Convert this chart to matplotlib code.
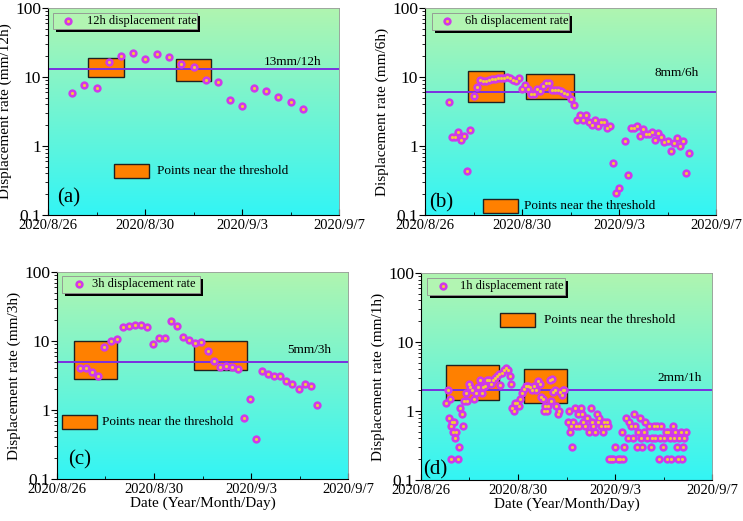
import numpy as np
import pandas as pd
import matplotlib
matplotlib.use('Agg')
from matplotlib import pyplot as plt
from matplotlib.patches import Rectangle
from matplotlib.ticker import FuncFormatter, LogLocator, NullFormatter
import matplotlib.dates as mdates

plt.rcParams['font.family'] = ['Liberation Serif', 'DejaVu Serif']
plt.rcParams['mathtext.fontset'] = 'stix'

# hours counted from 2020/8/26 00:00
a_hours = [24, 36, 48, 60, 72, 84, 96, 108, 120, 132, 144, 156, 168, 180, 192, 204, 216, 228, 240, 252]
a_rate = [5.9, 7.7, 6.9, 16.3, 20.4, 22.5, 18.0, 21.8, 19.7, 15.6, 13.8, 9.1, 8.6, 4.6, 3.8, 6.9, 6.2, 5.1, 4.4, 3.4]

b_hours = [24, 27, 30, 33, 36, 39, 42, 45, 48, 51, 54, 57, 60, 63, 66, 69, 72, 75, 78, 81,
           84, 87, 90, 93, 96, 99, 102, 105, 108, 111, 114, 117, 120, 123, 126, 129, 132, 135, 138, 141,
           144, 147, 150, 153, 156, 159, 162, 165, 168, 171, 174, 177, 180, 183, 186, 189, 192,
           198, 201, 204, 207, 210, 213, 216, 219, 222, 225, 228, 231, 234, 237, 240, 243, 246, 249,
           252, 255, 258, 261]
b_rate = [4.3, 1.34, 1.34, 1.6, 1.22, 1.39, 0.44, 1.68, 5.3, 7.1, 9.2, 8.9, 8.8, 9.2, 9.4, 9.4, 9.6, 9.7, 9.7, 10.0,
          9.6, 9.1, 8.7, 9.7, 6.7, 7.6, 6.6, 5.6, 5.6, 6.6, 6.2, 7.3, 8.2, 8.2, 6.4, 6.4, 6.4, 6.3, 5.9, 5.7,
          4.8, 3.9, 2.4, 2.8, 2.4, 2.8, 2.2, 2.05, 2.4, 1.94, 2.2, 2.2, 1.8, 1.94, 0.56, 0.21, 0.245,
          1.2, 0.38, 1.85, 1.83, 1.94, 1.42, 1.78, 1.5, 1.48, 1.6, 1.24, 1.52, 1.34, 1.14, 1.17, 0.84, 1.11, 1.31,
          1.0, 1.18, 0.41, 0.8]

c_hours = [23, 29, 35, 41, 47, 53, 59, 65, 71, 77, 83, 89, 95, 101, 107, 113, 119, 125, 131, 137,
           143, 149, 155, 161, 167, 173, 179, 185, 191, 197, 203, 209, 215, 221, 227, 233, 239, 245, 251, 257]
c_rate = [4.0, 4.0, 3.6, 3.1, 8.3, 9.9, 10.8, 15.8, 16.7, 17.3, 17.1, 16.0, 9.0, 11.1, 11.1, 19.8, 16.4, 11.4, 10.2, 9.3,
          9.8, 7.1, 5.1, 4.2, 4.4, 4.2, 3.9, 0.77, 1.46, 0.38, 3.7, 3.3, 3.1, 3.1, 2.6, 2.4, 2.0, 2.4, 2.2, 1.2]

d_hours = [25, 27, 27.5, 29, 29.5, 31, 30, 32, 33, 34, 35, 36.5, 38, 39, 40.5, 41.5, 42.5, 44.5, 46, 48,
           48.5, 50.5, 52.5, 54, 56, 58, 60, 61.5, 63, 65, 67, 69, 71, 73, 75, 77, 78.5, 80, 82, 84,
           86, 88, 89.5, 90.5, 92, 93.5, 95, 96.5, 98, 100, 101.5, 104, 106, 108, 110, 112, 114, 116, 118, 119,
           120.5, 122, 123, 124.5, 125.5, 127.5, 129.5, 128.5, 131, 132.5, 133.5, 135.5, 137, 138, 139.5, 140.5, 142,
           145, 146, 147, 148, 149.5, 150.5, 152, 153.5, 155.5, 156.5, 158, 159.5, 160.5, 162, 164, 166, 168,
           169.5, 170.5, 172.5, 174, 175.5, 176.5, 178.5, 180, 181, 182.5, 184.5, 185.5,
           186.5, 188.5, 190.5, 192, 194.5, 196.5, 198.5, 199.5, 201, 203, 204.5, 206, 207.5, 209.5, 210.5, 212,
           213.5, 214.5, 216.5, 218, 219, 220.5, 222, 224, 225.5, 227.5, 228.5, 230.5, 232, 234, 235.5, 236.5,
           238, 239.5, 240.5, 242, 243.5, 244.5, 246, 247.5, 249, 250.5, 251.5, 253, 254.5, 255.5, 257, 258.5,
           259.5, 260.5, 262]
d_rate = [1.3, 2.0, 0.8, 1.5, 0.6, 0.7, 0.2, 0.5, 0.7, 0.4, 0.5, 0.2, 0.3, 1.1, 0.9, 0.6, 1.4, 1.8, 1.4, 2.5,
          2.2, 2.0, 1.5, 1.8, 2.2, 2.8, 1.8, 2.2, 2.3, 2.8, 2.8, 2.5, 2.8, 3.0, 3.2, 3.4, 2.4, 3.5, 3.9, 4.2,
          3.9, 3.2, 2.5, 1.1, 1.0, 1.3, 1.3, 1.2, 1.5, 1.8, 2.1, 2.3, 2.3, 2.2, 2.0, 2.3, 2.0, 2.7, 2.5, 1.6,
          1.5, 1.0, 1.2, 1.0, 1.2, 2.8, 2.9, 1.4, 1.9, 2.0, 1.2, 0.9, 1.0, 1.9, 1.7, 2.0, 2.0,
          0.7, 1.0, 0.5, 0.6, 0.3, 0.7, 1.1, 0.6, 0.9, 0.6, 1.1, 0.9, 0.7, 0.6, 0.8, 0.5, 1.1,
          0.7, 0.6, 0.5, 0.9, 0.7, 0.8, 0.6, 0.5, 0.7, 0.6, 0.7, 0.6,
          0.2, 0.2, 0.2, 0.3, 0.2, 0.2, 0.5, 0.2, 0.3, 0.8, 0.4, 0.7, 0.6, 0.4, 0.9, 0.6,
          0.3, 0.5, 0.8, 0.4, 0.3, 0.5, 0.7, 0.4, 0.6, 0.3, 0.4, 0.6, 0.4, 0.6, 0.2, 0.4,
          0.6, 0.3, 0.4, 0.5, 0.2, 0.5, 0.4, 0.2, 0.6, 0.4, 0.5, 0.3, 0.2, 0.4, 0.5, 0.2,
          0.3, 0.4, 0.5]

# threshold lines and the "near threshold" boxes (hour start, hour end, low, high)
thresholds = [13, 6, 5, 2]
threshold_labels = ['13mm/12h', '8mm/6h', '5mm/3h', '2mm/1h']
boxes = [
    [(40, 75, 10.0, 19.1), (126.5, 161, 8.65, 18.4)],
    [(43, 78, 4.4, 12.4), (99.6, 147.4, 4.8, 11.2)],
    [(16.5, 59.3, 2.86, 10.1), (136, 188, 3.8, 9.9)],
    [(25, 77, 1.45, 4.57), (101.6, 144.5, 1.3, 4.1)],
]
series_names = ['12h displacement rate', '6h displacement rate', '3h displacement rate', '1h displacement rate']
ylabels = ['Displacement rate (mm/12h)', 'Displacement rate (mm/6h)',
           'Displacement rate (mm/3h)', 'Displacement rate (mm/1h)']
panel_tags = ['(a)', '(b)', '(c)', '(d)']

t0 = pd.Timestamp('2020-08-26')


def to_dates(hours):
    return t0 + pd.to_timedelta(np.array(hours, dtype=float), unit='h')


fig = plt.figure(figsize=(7.43, 5.21), dpi=100)
rects = [
    [0.0646, 0.5873, 0.3917, 0.3973],
    [0.572, 0.5873, 0.3917, 0.3973],
    [0.0767, 0.0806, 0.3917, 0.3973],
    [0.5666, 0.0787, 0.3917, 0.3973],
]

# key layout per panel (axes fraction): legend frame, marker x, text x
key_boxes = [
    (0.017, 0.899, 0.512, 0.976, 0.069, 0.134),
    (0.025, 0.894, 0.496, 0.976, 0.077, 0.137),
    (0.017, 0.899, 0.491, 0.981, 0.075, 0.119),
    (0.021, 0.894, 0.495, 0.976, 0.076, 0.135),
]
orange_keys = [
    (0.228, 0.179, 0.373, 0.213),
    (0.20, 0.010, 0.34, 0.043),
    (0.017, 0.242, 0.156, 0.275),
    (0.271, 0.739, 0.423, 0.773),
]
thr_text_pos = [(0.842, 0.739), (0.864, 0.686), (0.866, 0.623), (0.887, 0.493)]
tag_pos = [(0.072, 0.082), (0.054, 0.058), (0.079, 0.092), (0.05, 0.048)]

all_hours = [a_hours, b_hours, c_hours, d_hours]
all_rates = [a_rate, b_rate, c_rate, d_rate]

top = np.array([0.69, 0.96, 0.69])
bot = np.array([0.20, 0.96, 0.96])
frac = np.linspace(0, 1, 256)[:, None]
grad = (top * (1 - frac) + bot * frac)[:, None, :]

marker_c = '#cf3ae9'
dot_c = '#f5c83a'
line_c = '#7b2fe0'
orange = '#ff8000'


def balls(ax, x, y, **kw):
    ax.scatter(x, y, s=36, c=marker_c, linewidths=0, zorder=3, **kw)
    ax.scatter(x, y, s=5, c=dot_c, linewidths=0, zorder=4, **kw)


for i in range(4):
    ax = fig.add_axes(rects[i])
    ax.imshow(grad, extent=[0, 1, 0, 1], transform=ax.transAxes, aspect='auto', zorder=0)
    ax.set_yscale('log')

    for (h0, h1, lo, hi) in boxes[i]:
        d0 = mdates.date2num(to_dates([h0])[0])
        d1 = mdates.date2num(to_dates([h1])[0])
        ax.add_patch(Rectangle((d0, lo), d1 - d0, hi - lo, facecolor=orange,
                               edgecolor='#202020', lw=1.0, zorder=2))

    ax.axhline(thresholds[i], color=line_c, lw=1.4, zorder=2.5)

    balls(ax, to_dates(all_hours[i]), all_rates[i])

    ax.set_xlim(pd.Timestamp('2020-08-26'), pd.Timestamp('2020-09-07'))
    ax.set_ylim(0.1, 100)
    ax.xaxis.set_major_locator(mdates.DayLocator(bymonthday=[26, 30, 3, 7]))
    ax.xaxis.set_minor_locator(mdates.DayLocator(bymonthday=[28, 1, 5]))
    ax.xaxis.set_major_formatter(FuncFormatter(
        lambda v, p: '%d/%d/%d' % (mdates.num2date(v).year, mdates.num2date(v).month, mdates.num2date(v).day)))
    ax.yaxis.set_major_locator(LogLocator(base=10, numticks=10))
    ax.yaxis.set_minor_locator(LogLocator(base=10, subs=np.arange(2, 10), numticks=20))
    ax.yaxis.set_minor_formatter(NullFormatter())
    ax.yaxis.set_major_formatter(FuncFormatter(lambda v, p: ('%g' % v)))
    ax.tick_params(axis='x', which='major', labelsize=10.5, direction='in', length=4, pad=3)
    ax.tick_params(axis='x', which='minor', direction='in', length=2.5)
    ax.tick_params(axis='y', which='major', labelsize=12.5, direction='out', length=4, pad=1)
    ax.tick_params(axis='y', which='minor', direction='out', length=2)
    ax.set_ylabel(ylabels[i], fontsize=11, labelpad=2)
    if i >= 2:
        ax.set_xlabel('Date (Year/Month/Day)', fontsize=11, labelpad=0)
    for s in ['top', 'right']:
        ax.spines[s].set_color('#9a9a9a')
        ax.spines[s].set_linewidth(0.6)

    # series key with black shadow
    x0, y0, x1, y1, mx, tx = key_boxes[i]
    ax.add_patch(Rectangle((x0 + 0.009, y0 - 0.013), x1 - x0, y1 - y0, transform=ax.transAxes,
                           facecolor='black', edgecolor='none', zorder=5))
    ax.add_patch(Rectangle((x0, y0), x1 - x0, y1 - y0, transform=ax.transAxes,
                           facecolor='#b2f5b2', edgecolor='#909090', lw=0.6, zorder=6))
    ym = (y0 + y1) / 2
    ax.scatter([mx], [ym], s=36, c=marker_c, linewidths=0, transform=ax.transAxes, zorder=7)
    ax.scatter([mx], [ym], s=5, c=dot_c, linewidths=0, transform=ax.transAxes, zorder=8)
    ax.text(tx, ym, series_names[i], transform=ax.transAxes, fontsize=9, va='center', zorder=8)

    # "points near the threshold" key
    ox, oy, otx, oty = orange_keys[i]
    ax.add_patch(Rectangle((ox, oy), 0.12, 0.068, transform=ax.transAxes, facecolor=orange,
                           edgecolor='#202020', lw=1.0, zorder=5))
    ax.text(otx, oty, 'Points near the threshold', transform=ax.transAxes, fontsize=9.5,
            va='center', zorder=5)

    ax.text(thr_text_pos[i][0], thr_text_pos[i][1], threshold_labels[i], transform=ax.transAxes,
            fontsize=9.5, ha='center', va='center', zorder=5)
    ax.text(tag_pos[i][0], tag_pos[i][1], panel_tags[i], transform=ax.transAxes,
            fontsize=15, ha='center', va='center', zorder=5)

fig.savefig('out.png', dpi=100)
